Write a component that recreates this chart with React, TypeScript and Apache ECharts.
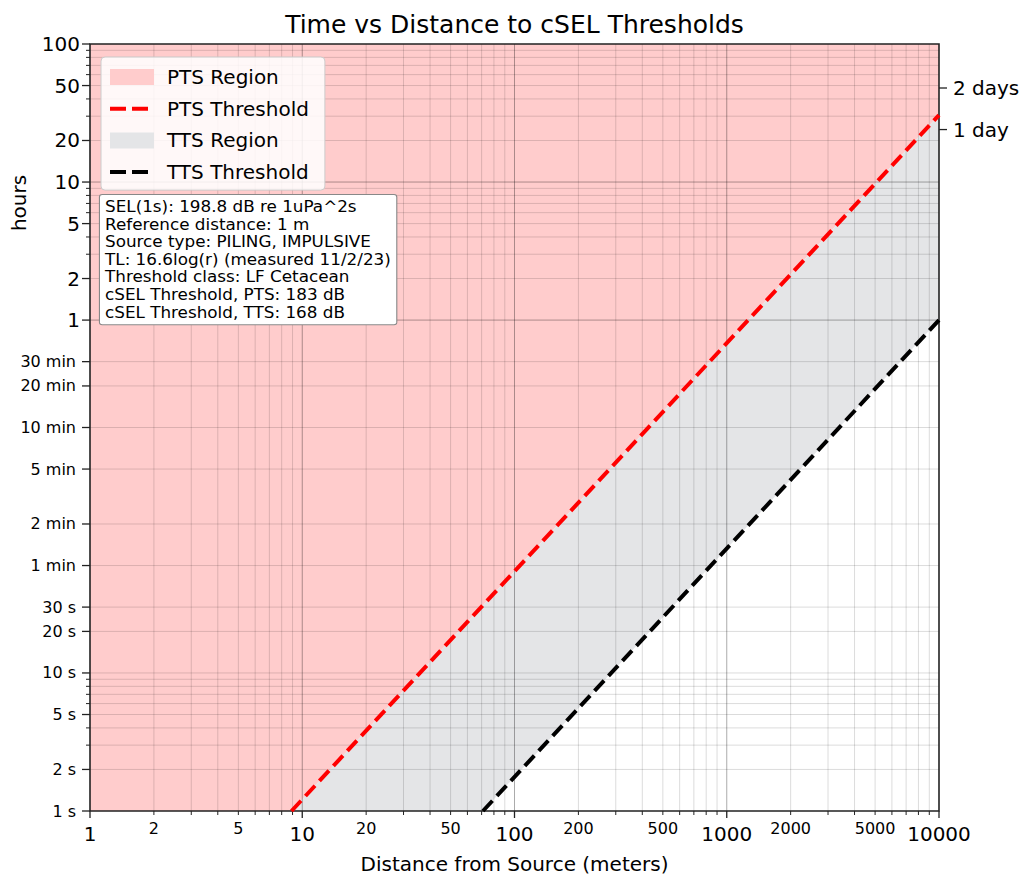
import React, { useEffect, useRef } from 'react';
import * as echarts from 'echarts';

const FONT = "'DejaVu Sans', Verdana, sans-serif";

// axis ranges: x in meters, y in seconds (1 s ... 100 h)
const xRange = [1, 10000];
const yRange = [1, 360000];

const xMajorTicks = [1, 10, 100, 1000, 10000];
const xMinorTicks = [2, 3, 4, 5, 6, 7, 8, 9, 20, 30, 40, 50, 60, 70, 80, 90, 200, 300, 400, 500, 600, 700, 800, 900, 2000, 3000, 4000, 5000, 6000, 7000, 8000, 9000];
const xMinorLabelValues = [2, 5, 20, 50, 200, 500, 2000, 5000];

const yHourTickValues = [3600, 7200, 18000, 36000, 72000, 180000, 360000];
const yHourTickLabels = ['1', '2', '5', '10', '20', '50', '100'];
const yTimeTickValues = [1, 2, 5, 10, 20, 30, 60, 120, 300, 600, 1200, 1800];
const yTimeTickLabels = ['1 s', '2 s', '5 s', '10 s', '20 s', '30 s', '1 min', '2 min', '5 min', '10 min', '20 min', '30 min'];
const yMajorGrid = [3600, 36000];
const yMinorTicks = [3, 4, 6, 7, 8, 9, 10800, 14400, 21600, 25200, 28800, 32400, 108000, 144000, 216000, 252000, 288000, 324000];
const yRightTickValues = [172800, 86400];
const yRightTickLabels = ['2 days', '1 day'];

// threshold lines (distance m, time s)
const ptsThreshold = [[8.9, 1], [10000, 110000]];
const ttsThreshold = [[71, 1], [10000, 3600]];

const annotationLines = [
  'SEL(1s): 198.8 dB re 1uPa^2s',
  'Reference distance: 1 m',
  'Source type: PILING, IMPULSIVE',
  'TL: 16.6log(r) (measured 11/2/23)',
  'Threshold class: LF Cetacean',
  'cSEL Threshold, PTS: 183 dB',
  'cSEL Threshold, TTS: 168 dB',
];

const PTS_FILL = '#ffcccc';
const TTS_FILL = '#e4e5e7';
const MINOR = 'rgba(0,0,0,0.14)';
const MAJOR = 'rgba(0,0,0,0.33)';
const AXIS = '#222222';

function regionSeries(name: string, color: string, poly: () => number[][]) {
  return {
    type: 'custom',
    name,
    coordinateSystem: 'cartesian2d',
    data: [[1, 1]],
    z: 1,
    silent: true,
    itemStyle: { color },
    renderItem: (_p: any, api: any) => ({
      type: 'polygon',
      shape: { points: poly().map((pt) => api.coord(pt)) },
      style: { fill: color },
    }),
  };
}

function renderDecor(_p: any, api: any) {
  const [l, b] = api.coord([xRange[0], yRange[0]]);
  const [r, t] = api.coord([xRange[1], yRange[1]]);
  const ch: any[] = [];
  const X = (v: number) => api.coord([v, yRange[0]])[0];
  const Y = (v: number) => api.coord([xRange[0], v])[1];
  const line = (x1: number, y1: number, x2: number, y2: number, stroke: string, lw: number) =>
    ch.push({ type: 'line', shape: { x1, y1, x2, y2 }, style: { stroke, lineWidth: lw } });
  const text = (x: number, y: number, s: string, size: number, align: string, va: string) =>
    ch.push({ type: 'text', x, y, style: { text: s, fontSize: size, fontFamily: FONT, fill: '#000', align, verticalAlign: va } });

  // vertical grid
  xMinorTicks.forEach((v) => line(X(v), t, X(v), b, MINOR, 1));
  xMajorTicks.slice(1, -1).forEach((v) => line(X(v), t, X(v), b, MAJOR, 1));
  // horizontal grid
  [...yTimeTickValues, ...yHourTickValues, ...yMinorTicks].forEach((v) => {
    if (yMajorGrid.includes(v) || v === yRange[0] || v === yRange[1]) return;
    line(l, Y(v), r, Y(v), MINOR, 1);
  });
  yMajorGrid.forEach((v) => line(l, Y(v), r, Y(v), MAJOR, 1));

  // frame
  ch.push({ type: 'rect', shape: { x: l, y: t, width: r - l, height: b - t }, style: { fill: 'none', stroke: AXIS, lineWidth: 1.6 } });

  // x ticks & labels
  xMajorTicks.forEach((v) => {
    line(X(v), b, X(v), b + 7, AXIS, 1.3);
    text(X(v), b + 23, String(v), 20, 'center', 'middle');
  });
  xMinorTicks.forEach((v) => line(X(v), b, X(v), b + 4, AXIS, 1));
  xMinorLabelValues.forEach((v) => text(X(v), b + 17, String(v), 16, 'center', 'middle'));

  // y ticks & labels (left)
  yHourTickValues.forEach((v, i) => {
    line(l - 8, Y(v), l, Y(v), AXIS, 1.3);
    text(l - 10, Y(v), yHourTickLabels[i], 20, 'right', 'middle');
  });
  yTimeTickValues.forEach((v, i) => {
    line(l - 8, Y(v), l, Y(v), AXIS, 1.3);
    text(l - 14, Y(v), yTimeTickLabels[i], 16, 'right', 'middle');
  });
  yMinorTicks.forEach((v) => line(l - 4, Y(v), l, Y(v), AXIS, 1));

  // right ticks & labels
  yRightTickValues.forEach((v, i) => {
    line(r, Y(v), r + 8, Y(v), AXIS, 1.3);
    text(r + 14, Y(v), yRightTickLabels[i], 20, 'left', 'middle');
  });

  return { type: 'group', children: ch };
}

const option: any = {
  animation: false,
  backgroundColor: '#ffffff',
  grid: { left: 90, top: 44, right: 87, bottom: 64 },
  xAxis: {
    type: 'log',
    logBase: 10,
    min: xRange[0],
    max: xRange[1],
    axisLine: { show: false },
    axisTick: { show: false },
    axisLabel: { show: false },
    splitLine: { show: false },
  },
  yAxis: {
    type: 'log',
    logBase: 10,
    min: yRange[0],
    max: yRange[1],
    axisLine: { show: false },
    axisTick: { show: false },
    axisLabel: { show: false },
    splitLine: { show: false },
  },
  legend: {
    left: 101,
    top: 57,
    orient: 'vertical',
    itemWidth: 44,
    itemHeight: 16,
    itemGap: 11.7,
    padding: [10, 16, 8, 7],
    backgroundColor: 'rgba(255,255,255,0.85)',
    borderColor: '#cccccc',
    borderWidth: 1,
    borderRadius: 4,
    selectedMode: false,
    textStyle: { fontSize: 20, fontFamily: FONT, color: '#000', padding: [0, 0, 0, 8] },
    data: [
      { name: 'PTS Region', icon: 'rect', itemStyle: { color: PTS_FILL } },
      { name: 'PTS Threshold', itemStyle: { opacity: 0 }, lineStyle: { type: [16, 6], width: 4 } },
      { name: 'TTS Region', icon: 'rect', itemStyle: { color: TTS_FILL } },
      { name: 'TTS Threshold', itemStyle: { opacity: 0 }, lineStyle: { type: [16, 6], width: 4 } },
    ],
  },
  graphic: [
    {
      type: 'text',
      x: 514.5,
      y: 24,
      z: 100,
      style: { text: 'Time vs Distance to cSEL Thresholds', fontSize: 25, fontFamily: FONT, fill: '#000', align: 'center', verticalAlign: 'middle' },
    },
    {
      type: 'text',
      x: 514.5,
      y: 864,
      z: 100,
      style: { text: 'Distance from Source (meters)', fontSize: 20, fontFamily: FONT, fill: '#000', align: 'center', verticalAlign: 'middle' },
    },
    {
      type: 'text',
      x: 19,
      y: 203,
      rotation: Math.PI / 2,
      z: 100,
      style: { text: 'hours', fontSize: 20, fontFamily: FONT, fill: '#000', align: 'center', verticalAlign: 'middle' },
    },
    {
      type: 'text',
      x: 100,
      y: 195,
      scaleX: 1.12,
      z: 100,
      style: {
        text: annotationLines.join('\n'),
        fontSize: 15,
        lineHeight: 17.6,
        fontFamily: FONT,
        fill: '#000',
        align: 'left',
        verticalAlign: 'top',
        backgroundColor: '#ffffff',
        borderColor: '#888888',
        borderWidth: 1,
        borderRadius: 2,
        padding: [3, 4.5, 3, 4.5],
      },
    },
  ],
  series: [
    regionSeries('PTS Region', PTS_FILL, () => [
      [xRange[0], yRange[0]],
      ptsThreshold[0],
      ptsThreshold[1],
      [xRange[1], yRange[1]],
      [xRange[0], yRange[1]],
    ]),
    regionSeries('TTS Region', TTS_FILL, () => [ptsThreshold[0], ttsThreshold[0], ttsThreshold[1], ptsThreshold[1]]),
    {
      type: 'custom',
      name: 'axes',
      coordinateSystem: 'cartesian2d',
      data: [[1, 1]],
      z: 2,
      silent: true,
      renderItem: renderDecor,
    },
    {
      type: 'line',
      name: 'PTS Threshold',
      data: ptsThreshold,
      symbol: 'none',
      z: 3,
      lineStyle: { color: '#ff0000', width: 4, type: [14, 6.5] },
      itemStyle: { color: '#ff0000' },
    },
    {
      type: 'line',
      name: 'TTS Threshold',
      data: ttsThreshold,
      symbol: 'none',
      z: 3,
      lineStyle: { color: '#000000', width: 4, type: [14, 6.5] },
      itemStyle: { color: '#000000' },
    },
  ],
};

export default function App() {
  const ref = useRef<HTMLDivElement>(null);
  useEffect(() => {
    document.body.style.margin = '0';
    const chart = echarts.init(ref.current!, null, { renderer: 'svg' });
    chart.setOption(option);
    return () => chart.dispose();
  }, []);
  return <div ref={ref} style={{ width: 1026, height: 875 }} />;
}
